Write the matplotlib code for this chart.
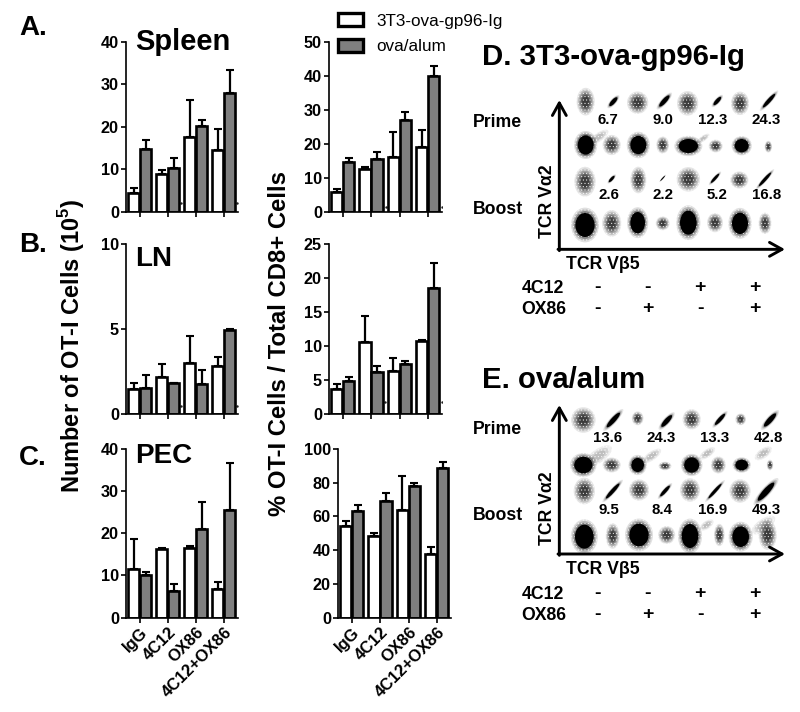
import matplotlib
matplotlib.use("Agg")
import matplotlib.pyplot as plt
import numpy as np
from matplotlib.patches import Ellipse

plt.rcParams['font.family'] = ['Liberation Sans', 'DejaVu Sans']
plt.rcParams['font.weight'] = 'bold'
plt.rcParams['mathtext.fontset'] = 'custom'
plt.rcParams['mathtext.bf'] = 'Liberation Sans:bold'
plt.rcParams['mathtext.rm'] = 'Liberation Sans:bold'
plt.rcParams['hatch.linewidth'] = 0.3

W, H = 800, 712
GROUPS = ['IgG', '4C12', 'OX86', '4C12+OX86']
SERIES = ['3T3-ova-gp96-Ig', 'ova/alum']

A1_WHITE = [4.5, 9.0, 17.5, 14.5]
A1_WHITE_TOP = [5.7, 9.8, 26.2, 19.4]
A1_GRAY = [14.8, 10.4, 20.2, 28.0]
A1_GRAY_TOP = [17.0, 12.7, 21.7, 33.2]

A2_WHITE = [6.0, 12.8, 16.2, 19.0]
A2_WHITE_TOP = [6.8, 13.2, 23.5, 24.2]
A2_GRAY = [14.8, 15.6, 27.0, 40.0]
A2_GRAY_TOP = [16.0, 17.8, 29.5, 42.8]

B1_WHITE = [1.45, 2.15, 3.0, 2.85]
B1_WHITE_TOP = [1.8, 2.95, 4.6, 3.35]
B1_GRAY = [1.55, 1.8, 1.75, 4.95]
B1_GRAY_TOP = [2.3, 1.85, 2.6, 5.0]

B2_WHITE = [3.7, 10.6, 6.3, 10.8]
B2_WHITE_TOP = [4.4, 14.4, 8.2, 10.9]
B2_GRAY = [4.9, 6.2, 7.4, 18.5]
B2_GRAY_TOP = [5.4, 7.0, 7.8, 22.2]

C1_WHITE = [11.5, 16.2, 16.5, 6.7]
C1_WHITE_TOP = [18.7, 16.4, 16.9, 8.5]
C1_GRAY = [10.1, 6.4, 21.0, 25.5]
C1_GRAY_TOP = [10.9, 8.0, 27.5, 36.5]

C2_WHITE = [54.0, 48.5, 64.0, 37.5]
C2_WHITE_TOP = [57.5, 50.0, 84.0, 42.0]
C2_GRAY = [63.0, 69.0, 78.0, 88.5]
C2_GRAY_TOP = [66.5, 73.5, 80.0, 92.0]

# small stray marks near the baselines: x (group units), value
A1_SPECKS = ([1.46, 3.46], [2.0, 2.0])
A2_SPECKS = ([1.5, 3.5], [1.5, 1.5])
B1_SPECKS = ([1.46, 3.46], [0.5, 0.5])
B2_SPECKS = ([1.47, 3.5], [1.75, 1.75])

# Flow panels: units are reference zoom units inside each panel box
D_PRIME_PCT = ['6.7', '9.0', '12.3', '24.3']
D_BOOST_PCT = ['2.6', '2.2', '5.2', '16.8']
E_PRIME_PCT = ['13.6', '24.3', '13.3', '42.8']
E_BOOST_PCT = ['9.5', '8.4', '16.9', '49.3']
SIGN_4C12 = ['-', '-', '+', '+']
SIGN_OX86 = ['-', '+', '-', '+']

# solid dense populations: x, y, width, height
D_CORES = [(347, 345, 48, 58), (505, 345, 48, 55), (655, 348, 58, 42), (815, 347, 42, 40),
           (345, 585, 58, 72), (503, 578, 44, 64), (655, 578, 50, 72), (810, 580, 48, 64)]
E_CORES = [(340, 345, 55, 50), (503, 345, 38, 42), (665, 345, 45, 46), (815, 345, 38, 32),
           (343, 560, 56, 72), (507, 555, 58, 68), (660, 558, 50, 72), (812, 560, 50, 62)]
# stippled populations: x, y, width, height
D_CLOUDS = [(347, 215, 34, 52), (503, 218, 40, 42), (653, 220, 40, 46), (810, 220, 34, 44),
            (425, 345, 34, 38), (578, 345, 24, 32), (737, 348, 26, 24), (895, 350, 14, 22),
            (345, 455, 40, 56), (505, 450, 30, 50), (655, 448, 44, 46), (808, 450, 34, 32),
            (425, 580, 36, 50), (578, 580, 26, 26), (735, 578, 30, 36), (885, 580, 24, 40)]
E_CLOUDS = [(340, 210, 46, 48), (503, 205, 22, 26), (665, 208, 34, 38), (812, 208, 20, 22),
            (425, 345, 34, 28), (585, 348, 24, 16), (745, 345, 28, 32), (900, 345, 12, 20),
            (343, 423, 40, 50), (507, 420, 38, 40), (660, 420, 38, 44), (810, 423, 40, 44),
            (428, 558, 26, 48), (590, 555, 32, 34), (748, 555, 20, 42), (893, 555, 34, 56)]
# diagonal double-positive streaks: x, y, length, thickness
D_STREAKS = [(430, 215, 34, 12), (583, 213, 44, 13), (742, 213, 32, 11), (897, 212, 54, 11),
             (425, 447, 24, 8), (578, 445, 20, 3), (735, 445, 36, 8), (885, 448, 54, 9)]
E_STREAKS = [(430, 210, 58, 14), (590, 213, 46, 14), (750, 208, 44, 11), (900, 210, 52, 15),
             (428, 423, 60, 11), (585, 423, 42, 10), (735, 423, 58, 9), (888, 425, 72, 18)]
# faint smears between populations: x, y, length, thickness
D_SMEARS = [(385, 322, 60, 22), (700, 325, 36, 14)]
E_SMEARS = [(385, 318, 80, 34), (545, 318, 56, 22), (712, 310, 46, 20), (880, 310, 50, 24),
            (880, 525, 70, 30), (710, 525, 40, 20)]


def fig_axes(left, top, right, bottom):
    return fig.add_axes([left / W, 1 - bottom / H, (right - left) / W, (bottom - top) / H])


def bars(ax, white, white_top, gray, gray_top, ymax, ticks, labels=False, specks=None):
    x = np.arange(len(GROUPS))
    bw, bg = [], []
    for xs, vals, tops, color, store in ((x - 0.225, white, white_top, 'white', bw),
                                         (x + 0.2, gray, gray_top, '#7f7f7f', bg)):
        c = ax.bar(xs, vals, 0.40, color=color, edgecolor='black', linewidth=1.9, zorder=2)
        store.append(c)
        ax.errorbar(xs, vals, yerr=[np.zeros(4), np.array(tops) - np.array(vals)], fmt='none',
                    ecolor='black', elinewidth=1.6, capsize=2.9, capthick=1.5, zorder=1)
    if specks:
        ax.plot(specks[0], specks[1], ls='none', marker='s', ms=0.7, color='#222222', zorder=1)
    ax.set_xlim(-0.5, 3.5)
    ax.set_ylim(0, ymax)
    ax.set_yticks(ticks)
    ax.set_xticks(x)
    for s in ('top', 'right'):
        ax.spines[s].set_visible(False)
    for s in ('left', 'bottom'):
        ax.spines[s].set_linewidth(1.2)
    ax.tick_params(axis='both', width=1.2, length=3.6, labelsize=11.7, pad=1.5)
    if labels:
        ax.set_xticklabels(GROUPS, rotation=45, ha='right', rotation_mode='anchor', fontsize=12)
    else:
        ax.set_xticklabels([])
    ax.patch.set_alpha(0)
    return bw[0], bg[0]


fig = plt.figure(figsize=(W / 100, H / 100), dpi=100, facecolor='white')

a1 = fig_axes(126, 41.5, 238, 212)
h_w, h_g = bars(a1, A1_WHITE, A1_WHITE_TOP, A1_GRAY, A1_GRAY_TOP, 40, [0, 10, 20, 30, 40], specks=A1_SPECKS)
a2 = fig_axes(329, 41.7, 442, 212.3)
bars(a2, A2_WHITE, A2_WHITE_TOP, A2_GRAY, A2_GRAY_TOP, 50, [0, 10, 20, 30, 40, 50], specks=A2_SPECKS)
b1 = fig_axes(126, 244, 238, 414)
bars(b1, B1_WHITE, B1_WHITE_TOP, B1_GRAY, B1_GRAY_TOP, 10, [0, 5, 10], specks=B1_SPECKS)
b2 = fig_axes(329, 244, 442, 414)
bars(b2, B2_WHITE, B2_WHITE_TOP, B2_GRAY, B2_GRAY_TOP, 25, [0, 5, 10, 15, 20, 25], specks=B2_SPECKS)
c1 = fig_axes(126, 448.7, 238, 617.7)
bars(c1, C1_WHITE, C1_WHITE_TOP, C1_GRAY, C1_GRAY_TOP, 40, [0, 10, 20, 30, 40], labels=True)
c2 = fig_axes(338, 448.7, 451, 617.7)
bars(c2, C2_WHITE, C2_WHITE_TOP, C2_GRAY, C2_GRAY_TOP, 100, [0, 20, 40, 60, 80, 100], labels=True)

leg = fig.legend([h_w, h_g], SERIES, loc='upper left', bbox_to_anchor=(335 / W, 1 - 10 / H),
                 frameon=False, prop={'size': 12.3, 'weight': 'normal'}, handlelength=1.45,
                 handleheight=0.75, labelspacing=0.62, handletextpad=0.75, borderpad=0.2,
                 borderaxespad=0)
for p in leg.get_patches():
    p.set_linewidth(2.4)


def ftext(x, y, s, **kw):
    kw.setdefault('ha', 'left')
    kw.setdefault('va', 'center')
    fig.text(x / W, 1 - y / H, s, **kw)


ftext(19, 28, 'A.', fontsize=20)
ftext(19, 245, 'B.', fontsize=20)
ftext(19, 458, 'C.', fontsize=20)
ftext(135, 42, 'Spleen', fontsize=21)
ftext(135, 259, 'LN', fontsize=20)
ftext(135, 456, 'PEC', fontsize=20)
ftext(72, 346, r'Number of OT-I Cells (10$^{\mathbf{5}}$)', fontsize=17, rotation=90, ha='center')
ftext(280, 344, '% OT-I Cells / Total CD8+ Cells', fontsize=17.2, rotation=90, ha='center')


def soft(ax, x, y, w, h, angle=0, steps=((1.6, 0.10), (1.4, 0.14), (1.2, 0.18), (1.0, 0.24), (0.8, 0.28), (0.6, 0.3))):
    for scale, alpha in steps:
        ax.add_patch(Ellipse((x, y), w * scale, h * scale, angle=angle, facecolor='black',
                             edgecolor='none', alpha=alpha, lw=0))


def speckle(ax, x, y, w, h, angle=0):
    ax.add_patch(Ellipse((x, y), w, h, angle=angle, fill=False, edgecolor='white', hatch='.....', lw=0))


def flow_panel(top, title, title_y, rows, prime_y, boost_y, cores, clouds, streaks, smears,
               arrow_top, axis_y, ylab_y, xlab_y, tag_y):
    ax = fig_axes(470, top, 800, top + 300)
    ax.set_xlim(0, 990)
    ax.set_ylim(900, 0)
    ax.axis('off')
    for (x, y, l, t) in smears:
        soft(ax, x, y, l, t, angle=-35, steps=((1.2, 0.07), (0.9, 0.1), (0.6, 0.1)))
        speckle(ax, x, y, l * 1.3, t * 1.3, angle=-35)
    for (x, y, w, h) in clouds:
        soft(ax, x, y, w, h)
        speckle(ax, x, y, w * 1.7, h * 1.7)
    for (x, y, w, h) in cores:
        soft(ax, x, y, w, h, steps=((1.45, 0.12), (1.3, 0.18), (1.15, 0.3)))
        speckle(ax, x, y, w * 1.5, h * 1.5)
        ax.add_patch(Ellipse((x, y), w, h, facecolor='black', edgecolor='none', lw=0))
    for (x, y, l, t) in streaks:
        soft(ax, x, y, l, t, angle=-48, steps=((1.5, 0.1), (1.3, 0.15), (1.15, 0.2)))
        ax.add_patch(Ellipse((x, y), l, t, angle=-48, facecolor='black', edgecolor='none', lw=0))
    style = '->,head_length=0.9,head_width=0.5'
    ax.annotate('', xy=(268, arrow_top), xytext=(268, axis_y + 4),
                arrowprops=dict(arrowstyle=style, lw=2.1, color='black', shrinkA=0, shrinkB=0))
    ax.annotate('', xy=(945, axis_y), xytext=(264, axis_y),
                arrowprops=dict(arrowstyle=style, lw=2.1, color='black', shrinkA=0, shrinkB=0))
    ax.text(35, title_y, title, fontsize=21.2, va='center', ha='left')
    ax.text(8, prime_y, 'Prime', fontsize=12.7, va='center')
    ax.text(8, boost_y, 'Boost', fontsize=12.7, va='center')
    ax.text(232, ylab_y, 'TCR V\u03b12', fontsize=12.7, rotation=90, va='center', ha='center')
    ax.text(288, xlab_y, 'TCR V\u03b25', fontsize=12.7, va='center')
    for (labels, xs, y) in rows:
        for s, x in zip(labels, xs):
            ax.text(x, y, s, fontsize=10.8, ha='center', va='center')
    ax.text(155, tag_y, '4C12', fontsize=12.7, va='center')
    ax.text(155, tag_y + 64, 'OX86', fontsize=12.7, va='center')
    for s1, s2, x in zip(SIGN_4C12, SIGN_OX86, (382, 533, 690, 853)):
        ax.text(x, tag_y - 3, s1, fontsize=14, ha='center', va='center')
        ax.text(x, tag_y + 61, s2, fontsize=14, ha='center', va='center')


flow_panel(30, 'D. 3T3-ova-gp96-Ig', 80,
           [(D_PRIME_PCT, (415, 578, 727, 888), 270), (D_BOOST_PCT, (418, 578, 740, 890), 495)],
           278, 537, D_CORES, D_CLOUDS, D_STREAKS, D_SMEARS, 210, 658, 515, 703, 775)
flow_panel(350, 'E. ova/alum', 90,
           [(E_PRIME_PCT, (412, 572, 735, 895), 265), (E_BOOST_PCT, (418, 577, 727, 888), 480)],
           237, 495, E_CORES, E_CLOUDS, E_STREAKS, E_SMEARS, 165, 612, 475, 658, 733)

fig.savefig('out.png', dpi=100)
